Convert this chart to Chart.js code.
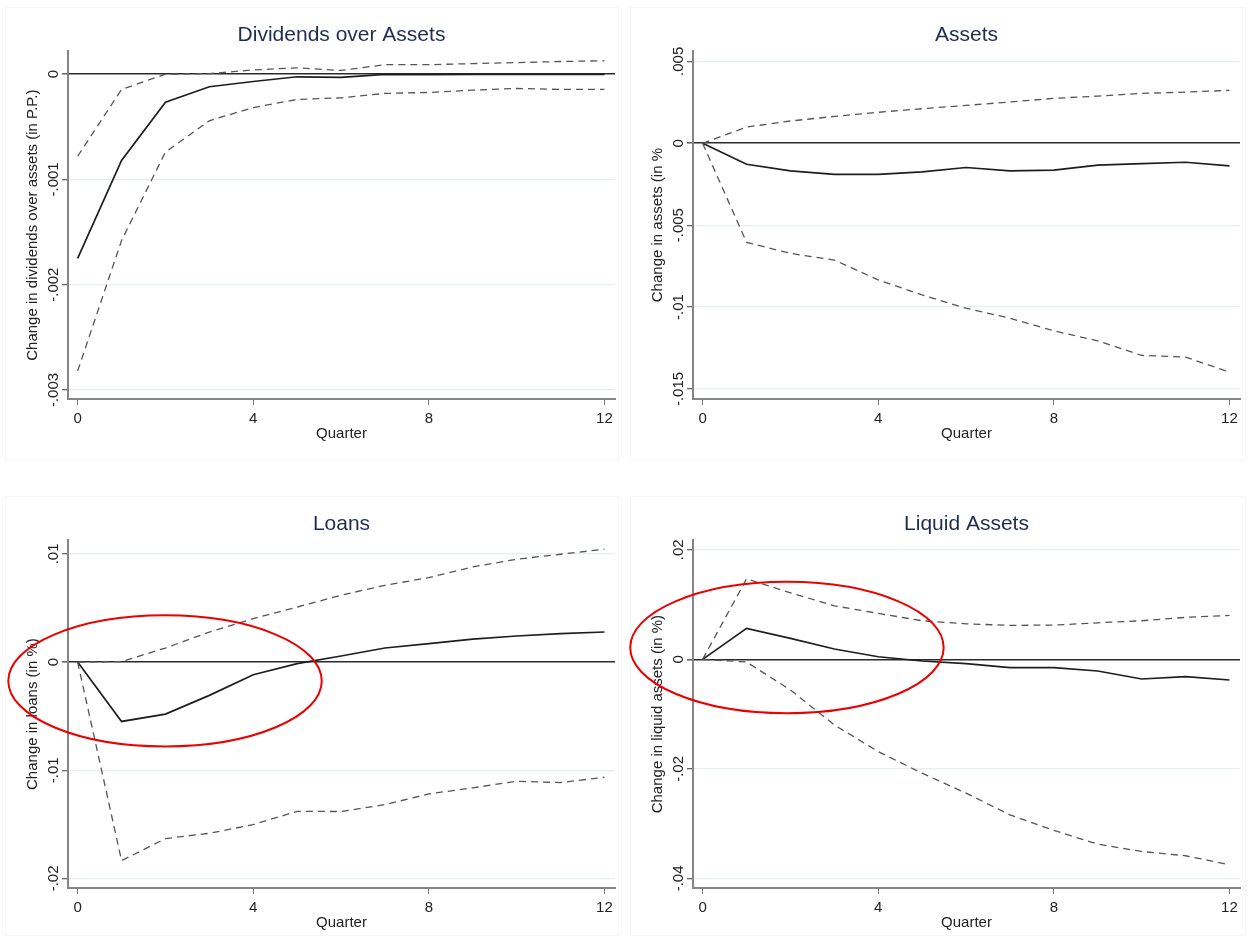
<!DOCTYPE html>
<html>
<head>
<meta charset="utf-8">
<script src="https://cdn.jsdelivr.net/npm/chart.js@4.4.1/dist/chart.umd.min.js"></script>
<style>
  body { margin: 0; background: #fff; width: 1250px; height: 938px; position: relative; overflow: hidden; }
  .panel { position: absolute; width: 625px; height: 449px; }
  .frame { position: absolute; border: 1px solid #f6f6f6; }
</style>
</head>
<body>
<div class="frame" style="left:5px;top:7px;width:612px;height:452px"></div>
<div class="frame" style="left:630px;top:7px;width:614px;height:452px"></div>
<div class="frame" style="left:5px;top:496px;width:612px;height:438px"></div>
<div class="frame" style="left:630px;top:496px;width:614px;height:438px"></div>
<div class="panel" style="left:0;top:0"><canvas id="divCanvas" width="625" height="449"></canvas></div>
<div class="panel" style="left:625px;top:0"><canvas id="assetsCanvas" width="625" height="449"></canvas></div>
<div class="panel" style="left:0;top:489px"><canvas id="loansCanvas" width="625" height="449"></canvas></div>
<div class="panel" style="left:625px;top:489px"><canvas id="liquidCanvas" width="625" height="449"></canvas></div>
<script>
// quarters after the shock
const quarters = [0, 1, 2, 3, 4, 5, 6, 7, 8, 9, 10, 11, 12];
const quarterTicks = [0, 4, 8, 12];

// Dividends over assets
const divMid   = [-0.00175, -0.00082, -0.000266, -0.00012, -0.00007, -0.000025, -0.00003, -0.000003, -0.000005, -0.000003, -0.000002, -0.000002, -0.000002];
const divUpper = [-0.00078, -0.000145, 0, 0.000005, 0.00004, 0.00006, 0.000035, 0.00009, 0.00009, 0.0001, 0.00011, 0.00012, 0.000127];
const divLower = [-0.00282, -0.00158, -0.00074, -0.000443, -0.000317, -0.00024, -0.000225, -0.000183, -0.000174, -0.000152, -0.000136, -0.000145, -0.000145];
const divTicks = [-0.003, -0.002, -0.001, 0];

// Assets
const assetsMid   = [0, -0.00128, -0.00169, -0.0019, -0.0019, -0.00175, -0.00148, -0.00169, -0.00164, -0.00134, -0.00124, -0.00116, -0.00138];
const assetsUpper = [0, 0.00099, 0.00136, 0.00164, 0.00189, 0.00211, 0.00231, 0.00252, 0.00274, 0.00288, 0.00305, 0.00312, 0.00323];
const assetsLower = [0, -0.00605, -0.00672, -0.00713, -0.00834, -0.00926, -0.01007, -0.01068, -0.01145, -0.01206, -0.01295, -0.01305, -0.01397];
const assetsTicks = [-0.015, -0.01, -0.005, 0, 0.005];

// Loans
const loansMid   = [0, -0.00549, -0.00481, -0.00308, -0.00117, -0.00015, 0.00056, 0.0013, 0.0017, 0.00213, 0.00241, 0.00263, 0.00278];
const loansUpper = [0, 0.00005, 0.0013, 0.00278, 0.00402, 0.00509, 0.00618, 0.0071, 0.00781, 0.0088, 0.00951, 0.00997, 0.01044];
const loansLower = [0, -0.01836, -0.01632, -0.01583, -0.01503, -0.0138, -0.01382, -0.01318, -0.01219, -0.01163, -0.01102, -0.01114, -0.01065];
const loansTicks = [-0.02, -0.01, 0, 0.01];

// Liquid assets
const liquidMid   = [0, 0.00565, 0.00383, 0.00188, 0.00047, -0.00031, -0.0008, -0.00153, -0.00153, -0.00213, -0.00359, -0.00317, -0.00377];
const liquidUpper = [0, 0.0147, 0.01214, 0.00977, 0.00839, 0.00704, 0.00649, 0.0062, 0.00625, 0.00667, 0.00704, 0.00766, 0.00802];
const liquidLower = [0, -0.00049, -0.0056, -0.01198, -0.01685, -0.02079, -0.02443, -0.02839, -0.03125, -0.03373, -0.03508, -0.03586, -0.0375];
const liquidTicks = [-0.04, -0.02, 0, 0.02];

// red highlight ellipses: [centre quarter, centre value, radius in quarters, radius in value]
const loansEllipse  = [1.99, -0.00174, 3.57, 0.00606];
const liquidEllipse = [1.92, 0.00215, 3.57, 0.012];

Chart.defaults.font.family = '"Liberation Sans", Arial, sans-serif';
Chart.defaults.color = '#222';

const FONT = 15;
const measureCtx = document.createElement('canvas').getContext('2d');
measureCtx.font = FONT + 'px "Liberation Sans"';

// Stata-like tick label: -.005 instead of -0.005
function stataLabel(v) {
    if (v === 0) return '0';
    const s = Math.abs(v).toString().replace(/^0/, '');
    return (v < 0 ? '-' : '') + s;
}

const ellipsePlugin = {
    id: 'ellipse',
    afterDraw(chart, args, opts) {
        if (!opts.shape) return;
        const [cx, cy, rx, ry] = opts.shape;
        const xs = chart.scales.x, ys = chart.scales.y;
        const px = xs.getPixelForValue(cx), py = ys.getPixelForValue(cy);
        const prx = Math.abs(xs.getPixelForValue(cx + rx) - px);
        const pry = Math.abs(ys.getPixelForValue(cy + ry) - py);
        const ctx = chart.ctx;
        ctx.save();
        ctx.beginPath();
        ctx.ellipse(px, py, prx, pry, 0, 0, 2 * Math.PI);
        ctx.strokeStyle = 'rgb(235, 0, 0)';
        ctx.lineWidth = 2;
        ctx.stroke();
        ctx.restore();
    }
};

function toPoints(arr) {
    return quarters.map((q, i) => ({x: q, y: arr[i]}));
}

function makePanel(id, title, yTitle, mid, upper, lower, yMin, yMax, yTicks, shape) {
    const labels = yTicks.map(stataLabel);
    const widest = Math.max(...labels.map(l => measureCtx.measureText(l).width));
    const dashed = {borderColor: '#555', borderWidth: 1.3, borderDash: [7, 5], pointRadius: 0, fill: false, tension: 0};

    new Chart(document.getElementById(id), {
        type: 'line',
        data: {
            datasets: [
                Object.assign({data: toPoints(upper)}, dashed),
                Object.assign({data: toPoints(lower)}, dashed),
                {data: toPoints(mid), borderColor: '#1e1e1e', borderWidth: 1.7, pointRadius: 0, fill: false, tension: 0}
            ]
        },
        options: {
            responsive: false,
            animation: false,
            devicePixelRatio: 1,
            layout: {padding: {left: 0, right: 10, top: 0, bottom: 6}},
            plugins: {
                legend: {display: false},
                tooltip: {enabled: false},
                title: {
                    display: true,
                    text: title,
                    fullSize: false,
                    color: '#1e2d52',
                    font: {size: 21, weight: 'normal'},
                    padding: {top: 23, bottom: 3}
                },
                ellipse: {shape: shape}
            },
            scales: {
                x: {
                    type: 'linear',
                    min: -0.22,
                    max: 12.24,
                    afterBuildTicks: s => { s.ticks = quarterTicks.map(v => ({value: v})); },
                    afterFit: s => { s.height = 44; },
                    ticks: {font: {size: FONT}, padding: 5, maxRotation: 0, color: '#222'},
                    grid: {display: true, drawOnChartArea: false, drawTicks: true, tickLength: 6, tickColor: '#777', color: '#777'},
                    border: {display: true, color: '#858585', width: 2},
                    title: {display: true, text: 'Quarter', font: {size: FONT}, color: '#222', padding: {top: 0, bottom: 0}}
                },
                y: {
                    type: 'linear',
                    min: yMin,
                    max: yMax,
                    afterBuildTicks: s => { s.ticks = yTicks.map(v => ({value: v})); },
                    afterFit: s => { s.width = 68; },
                    ticks: {
                        font: {size: FONT},
                        color: '#222',
                        minRotation: 90,
                        maxRotation: 90,
                        crossAlign: 'center',
                        padding: 8 - widest / 2,
                        callback: v => stataLabel(v)
                    },
                    grid: {
                        color: c => (c.tick && c.tick.value === 0) ? '#2a2a2a' : '#e7f0f0',
                        lineWidth: c => (c.tick && c.tick.value === 0) ? 1.6 : 1.3,
                        drawTicks: true,
                        tickLength: 6,
                        tickColor: '#666'
                    },
                    border: {display: true, color: '#858585', width: 2},
                    title: {display: true, text: yTitle, font: {size: FONT}, color: '#222', padding: {top: 24, bottom: 0}}
                }
            }
        },
        plugins: [ellipsePlugin]
    });
}

makePanel('divCanvas', 'Dividends over Assets', 'Change in dividends over assets (in P.P.)',
    divMid, divUpper, divLower, -0.003086, 0.000218, divTicks, null);
makePanel('assetsCanvas', 'Assets', 'Change in assets (in %',
    assetsMid, assetsUpper, assetsLower, -0.01561, 0.00562, assetsTicks, null);
makePanel('loansCanvas', 'Loans', 'Change in loans (in %)',
    loansMid, loansUpper, loansLower, -0.02089, 0.01127, loansTicks, loansEllipse);
makePanel('liquidCanvas', 'Liquid Assets', 'Change in liquid assets (in %)',
    liquidMid, liquidUpper, liquidLower, -0.04175, 0.02175, liquidTicks, liquidEllipse);
</script>
</body>
</html>
